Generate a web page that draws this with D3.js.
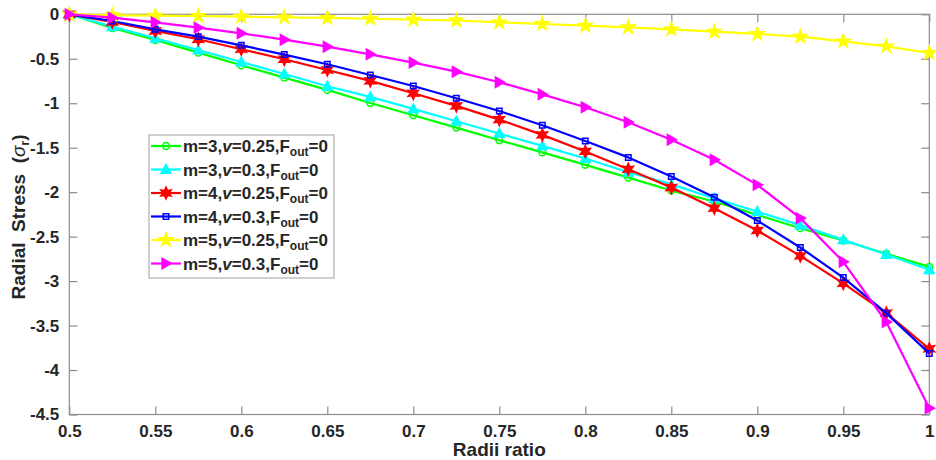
<!DOCTYPE html>
<html>
<head>
<meta charset="utf-8">
<script src="https://cdn.jsdelivr.net/npm/d3@7"></script>
<style>
  html, body { margin: 0; padding: 0; background: #fff; }
  svg { display: block; }
  text { font-family: "Liberation Sans", Arial, Helvetica, sans-serif; font-weight: bold; fill: #262626; }
</style>
</head>
<body>
<svg id="chart" width="936" height="460"></svg>
<script>
// Radii ratio samples
const radiiRatio = [0.5, 0.525, 0.55, 0.575, 0.6, 0.625, 0.65, 0.675, 0.7, 0.725, 0.75,
                    0.775, 0.8, 0.825, 0.85, 0.875, 0.9, 0.925, 0.95, 0.975, 1.0];

// Radial stress for each case
const m3v025 = [0, -0.154, -0.289, -0.431, -0.573, -0.712, -0.85, -0.997, -1.135, -1.274, -1.416,
                -1.553, -1.693, -1.836, -1.982, -2.105, -2.255, -2.405, -2.544, -2.693, -2.84];
const m3v03  = [0, -0.139, -0.27, -0.401, -0.536, -0.671, -0.809, -0.929, -1.064, -1.202, -1.341,
                -1.48, -1.622, -1.776, -1.91, -2.072, -2.218, -2.371, -2.536, -2.701, -2.873];
const m4v025 = [0, -0.087, -0.188, -0.281, -0.393, -0.506, -0.626, -0.749, -0.888, -1.03, -1.184,
                -1.356, -1.542, -1.742, -1.948, -2.18, -2.431, -2.716, -3.025, -3.36, -3.761];
const m4v03  = [0, -0.075, -0.169, -0.251, -0.349, -0.453, -0.562, -0.682, -0.806, -0.944, -1.088,
                -1.247, -1.424, -1.609, -1.824, -2.057, -2.319, -2.622, -2.96, -3.36, -3.813];
const m5v025 = [0, -0.01, -0.015, -0.019, -0.026, -0.034, -0.041, -0.05, -0.06, -0.07, -0.09,
                -0.109, -0.128, -0.146, -0.169, -0.195, -0.221, -0.251, -0.304, -0.36, -0.435];
const m5v03  = [0, -0.038, -0.09, -0.15, -0.214, -0.285, -0.364, -0.45, -0.543, -0.645, -0.764,
                -0.9, -1.045, -1.214, -1.41, -1.635, -1.918, -2.292, -2.783, -3.46, -4.43];

// Legend pieces: m, nu
const caseM  = ["3", "3", "4", "4", "5", "5"];
const caseNu = ["0.25", "0.3", "0.25", "0.3", "0.25", "0.3"];

// Tick values
const xTicks = [0.5, 0.55, 0.6, 0.65, 0.7, 0.75, 0.8, 0.85, 0.9, 0.95, 1];
const yTicks = [0, -0.5, -1, -1.5, -2, -2.5, -3, -3.5, -4, -4.5];

// Custom marker shapes
const hexagram = {
  draw(ctx, size) {
    const r = Math.sqrt(size) * 0.75, ri = r * 0.5;
    for (let i = 0; i < 12; i++) {
      const a = -Math.PI / 2 + i * Math.PI / 6;
      const rr = i % 2 ? ri : r;
      i ? ctx.lineTo(rr * Math.cos(a), rr * Math.sin(a)) : ctx.moveTo(rr * Math.cos(a), rr * Math.sin(a));
    }
    ctx.closePath();
  }
};
const triangleRight = {
  draw(ctx, size) {
    const h = Math.sqrt(size) * 0.62;
    ctx.moveTo(h, 0);
    ctx.lineTo(-h * 0.75, -h);
    ctx.lineTo(-h * 0.75, h);
    ctx.closePath();
  }
};
const triangleUp = {
  draw(ctx, size) {
    const h = Math.sqrt(size) * 0.62;
    ctx.moveTo(0, -h);
    ctx.lineTo(h, h * 0.75);
    ctx.lineTo(-h, h * 0.75);
    ctx.closePath();
  }
};

const series = [
  { values: m3v025, color: "#00ff00", symbol: d3.symbolCircle, size: 36, fill: "none" },
  { values: m3v03,  color: "#00ffff", symbol: triangleUp,      size: 64, fill: "#00ffff" },
  { values: m4v025, color: "#ff0000", symbol: hexagram,        size: 64, fill: "#ff0000" },
  { values: m4v03,  color: "#0000ff", symbol: d3.symbolSquare, size: 30, fill: "none" },
  { values: m5v025, color: "#ffff00", symbol: d3.symbolStar,   size: 55, fill: "#ffff00" },
  { values: m5v03,  color: "#ff00ff", symbol: triangleRight,   size: 70, fill: "#ff00ff" }
];

const svg = d3.select("#chart");
const plotLeft = 69.3, plotRight = 929.3, plotTop = 14.3, plotBottom = 414.5;

const x = d3.scaleLinear().domain([0.5, 1]).range([plotLeft, plotRight]);
const y = d3.scaleLinear().domain([-4.5, 0]).range([plotBottom, plotTop]);

const axisColor = "#8c8c8c";
const fmt = d => String(d);

// Box outline
svg.append("rect")
  .attr("x", plotLeft).attr("y", plotTop)
  .attr("width", plotRight - plotLeft).attr("height", plotBottom - plotTop)
  .attr("fill", "none").attr("stroke", axisColor).attr("stroke-width", 1.2);

// Axes with inward ticks on all four sides
function styleAxis(g) {
  g.select(".domain").remove();
  g.attr("font-size", null).attr("font-family", null);
  g.selectAll(".tick line").attr("stroke", axisColor).attr("stroke-width", 1.2);
  g.selectAll(".tick text").style("font-size", "17px").attr("fill", "#262626");
}
svg.append("g").attr("transform", `translate(0,${plotBottom})`)
  .call(d3.axisBottom(x).tickValues(xTicks).tickFormat(fmt).tickSizeInner(-8).tickPadding(10))
  .call(styleAxis);
svg.append("g").attr("transform", `translate(0,${plotTop})`)
  .call(d3.axisTop(x).tickValues(xTicks).tickFormat("").tickSizeInner(-8))
  .call(styleAxis);
svg.append("g").attr("transform", `translate(${plotLeft},0)`)
  .call(d3.axisLeft(y).tickValues(yTicks).tickFormat(fmt).tickSizeInner(-8).tickPadding(10))
  .call(styleAxis);
svg.append("g").attr("transform", `translate(${plotRight},0)`)
  .call(d3.axisRight(y).tickValues(yTicks).tickFormat("").tickSizeInner(-8))
  .call(styleAxis);

// Axis titles
svg.append("text")
  .attr("x", (plotLeft + plotRight) / 2).attr("y", 456)
  .attr("text-anchor", "middle")
  .style("font-size", "19px")
  .text("Radii ratio");

const yTitle = svg.append("text")
  .attr("transform", "translate(25,217) rotate(-90)")
  .attr("text-anchor", "middle")
  .style("font-size", "19px");
yTitle.append("tspan").text("Radial\u00A0 Stress\u00A0 (");
yTitle.append("tspan").style("font-style", "italic").style("font-weight", "normal").text("σ");
yTitle.append("tspan").attr("dy", 4).style("font-size", "12px").text("r");
yTitle.append("tspan").attr("dy", -4).text(")");

// Lines and markers
const line = d3.line().x((d, i) => x(radiiRatio[i])).y(d => y(d));
const plot = svg.append("g");
series.forEach(s => {
  plot.append("path")
    .datum(s.values)
    .attr("d", line)
    .attr("fill", "none")
    .attr("stroke", s.color)
    .attr("stroke-width", 2.2)
    .attr("stroke-linejoin", "round");
  plot.selectAll(null)
    .data(s.values)
    .join("path")
    .attr("transform", (d, i) => `translate(${x(radiiRatio[i])},${y(d)})`)
    .attr("d", d3.symbol(s.symbol, s.size))
    .attr("fill", s.fill)
    .attr("stroke", s.color)
    .attr("stroke-width", 1.5);
});

// Legend
const lg = svg.append("g");
lg.append("rect")
  .attr("x", 149).attr("y", 135).attr("width", 185).attr("height", 143)
  .attr("fill", "#fff").attr("stroke", "#a0a0a0").attr("stroke-width", 1);
series.forEach((s, i) => {
  const cy = 146 + i * 23.5;
  lg.append("line")
    .attr("x1", 151).attr("x2", 181).attr("y1", cy).attr("y2", cy)
    .attr("stroke", s.color).attr("stroke-width", 2.2);
  lg.append("path")
    .attr("transform", `translate(166,${cy})`)
    .attr("d", d3.symbol(s.symbol, s.size))
    .attr("fill", s.fill).attr("stroke", s.color).attr("stroke-width", 1.5);
  const t = lg.append("text").attr("x", 183).attr("y", cy + 6).style("font-size", "17px");
  t.append("tspan").text(`m=${caseM[i]},`);
  t.append("tspan").style("font-style", "italic").text("v");
  t.append("tspan").text(`=${caseNu[i]},F`);
  t.append("tspan").attr("dy", 4).style("font-size", "12px").text("out");
  t.append("tspan").attr("dy", -4).text("=0");
});
</script>
</body>
</html>
